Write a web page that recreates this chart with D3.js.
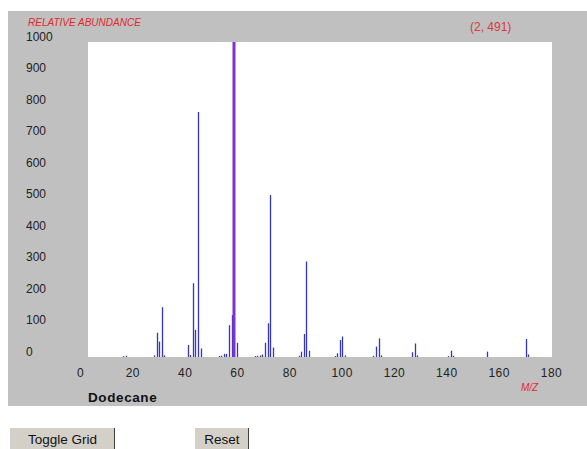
<!DOCTYPE html>
<html>
<head>
<meta charset="utf-8">
<script src="https://cdn.jsdelivr.net/npm/d3@7"></script>
<style>
  body { margin: 0; background: #fff; }
  svg { display: block; font-family: Arial, "Liberation Sans", sans-serif; }
</style>
</head>
<body>
<svg width="587" height="449"></svg>
<script>
// mass spectrum of dodecane (m/z vs relative abundance)
const mz = [14, 15, 26, 27, 28, 29, 30, 39, 40, 41, 42, 43, 44, 51, 52, 53, 54, 55, 56, 57, 58,
  65, 66, 67, 68, 69, 70, 71, 72, 82, 83, 84, 85, 86, 96, 97, 98, 99, 100,
  111, 112, 113, 114, 126, 127, 128, 140, 141, 142, 155, 170, 171];
const abundance = [3, 4, 5, 77, 49, 158, 5, 38, 6, 234, 86, 778, 27, 3, 4, 10, 10, 101, 133, 1000, 45,
  3, 4, 5, 8, 45, 107, 514, 30, 4, 17, 73, 303, 20, 3, 12, 54, 65, 5,
  4, 33, 59, 5, 15, 43, 5, 3, 20, 4, 17, 57, 8];
const xTicks = [0, 20, 40, 60, 80, 100, 120, 140, 160, 180];
const yTicks = [0, 100, 200, 300, 400, 500, 600, 700, 800, 900, 1000];
const compound = 'Dodecane';
const cursorText = '(2, 491)';

const peaks = mz.map((m, i) => ({ mz: m, v: abundance[i] }));
const basePeak = peaks.reduce((a, b) => (b.v > a.v ? b : a));

const svg = d3.select('svg');

// grey frame and white plotting area
svg.append('rect').attr('x', 8).attr('y', 11).attr('width', 579).attr('height', 395).attr('fill', '#c0c0c0');
svg.append('rect').attr('x', 88).attr('y', 42).attr('width', 464).attr('height', 315).attr('fill', '#fff');

const x = d3.scaleLinear().domain([0, 180]).range([87, 551.5]);
const xLab = d3.scaleLinear().domain([0, 180]).range([80, 551]);
const y = d3.scaleLinear().domain([0, 1000]).range([357, 42]);

// y tick labels (left aligned, baseline on the value)
const ya = svg.append('g')
  .attr('transform', 'translate(26,0)')
  .call(d3.axisRight(y).tickValues(yTicks).tickSize(0).tickPadding(0).tickFormat(d3.format('d')));
ya.select('.domain').remove();
ya.selectAll('text').attr('dy', '-0.13em').attr('font-size', 12).attr('fill', '#222')
  .attr('font-family', 'Arial, "Liberation Sans", sans-serif');

// x tick labels
const xa = svg.append('g')
  .attr('transform', 'translate(0,357)')
  .call(d3.axisBottom(xLab).tickValues(xTicks).tickSize(0).tickPadding(11.5).tickFormat(d3.format('d')));
xa.select('.domain').remove();
xa.selectAll('text').attr('font-size', 12).attr('fill', '#222').attr('letter-spacing', 0.5)
  .attr('font-family', 'Arial, "Liberation Sans", sans-serif');

// peaks
svg.append('g')
  .selectAll('line')
  .data(peaks.filter(d => d !== basePeak))
  .enter()
  .append('line')
  .attr('x1', d => Math.round(x(d.mz)) + 0.5)
  .attr('x2', d => Math.round(x(d.mz)) + 0.5)
  .attr('y1', y(0))
  .attr('y2', d => y(d.v))
  .attr('stroke', '#3434c0')
  .attr('stroke-width', 1.3);

svg.append('line')
  .attr('x1', Math.round(x(basePeak.mz)))
  .attr('x2', Math.round(x(basePeak.mz)))
  .attr('y1', y(0))
  .attr('y2', y(basePeak.v))
  .attr('stroke', '#8030d8')
  .attr('stroke-width', 3);

// labels
svg.append('text').attr('x', 28).attr('y', 26)
  .attr('font-size', 10).attr('font-style', 'italic').attr('fill', '#e02828')
  .text('RELATIVE ABUNDANCE');
svg.append('text').attr('x', 470).attr('y', 31)
  .attr('font-size', 12).attr('fill', '#d83838')
  .text(cursorText);
svg.append('text').attr('x', 521).attr('y', 391)
  .attr('font-size', 10).attr('font-style', 'italic').attr('fill', '#e02828')
  .text('M/Z');
svg.append('text').attr('x', 88).attr('y', 402)
  .attr('font-size', 13.5).attr('font-weight', 'bold').attr('fill', '#111').attr('letter-spacing', 0.6)
  .text(compound);

// buttons
const buttons = [
  { label: 'Toggle Grid', x: 10, w: 105 },
  { label: 'Reset', x: 195, w: 54 }
];
const btn = svg.selectAll('.btn')
  .data(buttons)
  .enter()
  .append('g')
  .attr('class', 'btn')
  .attr('transform', d => `translate(${d.x},428)`);
btn.append('rect').attr('width', d => d.w).attr('height', 21).attr('fill', '#d4d0c8');
btn.append('line')
  .attr('x1', d => d.w - 0.5).attr('x2', d => d.w - 0.5)
  .attr('y1', 0).attr('y2', 21)
  .attr('stroke', '#404040').attr('stroke-width', 1);
btn.append('text')
  .attr('x', d => d.w / 2).attr('y', 15.5)
  .attr('text-anchor', 'middle').attr('font-size', 13.5).attr('fill', '#111')
  .text(d => d.label);
</script>
</body>
</html>
